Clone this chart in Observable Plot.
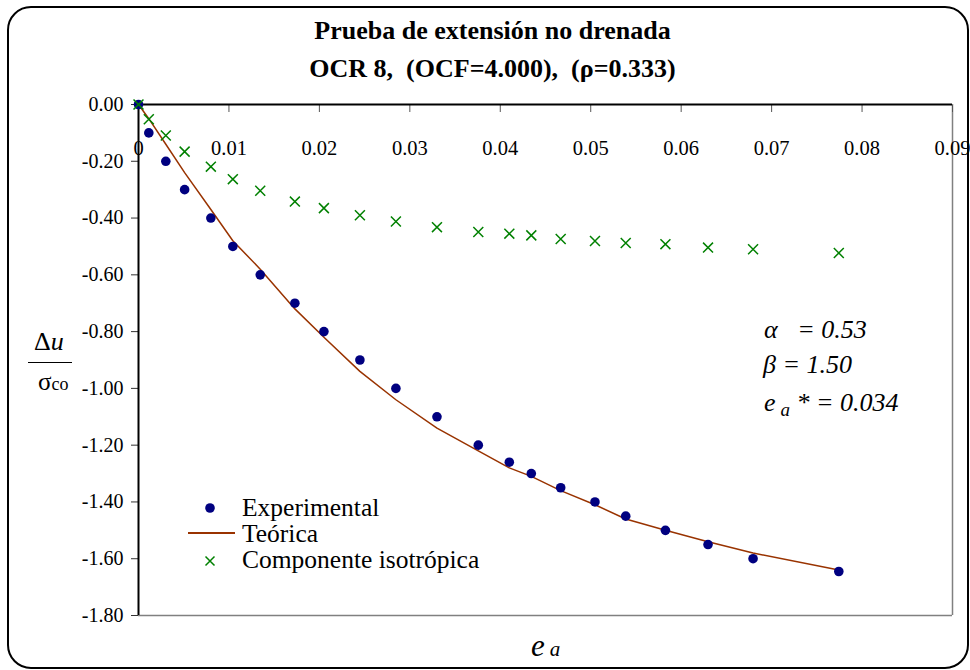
<!DOCTYPE html>
<html>
<head>
<meta charset="utf-8">
<script src="https://cdn.jsdelivr.net/npm/d3@7"></script>
<script src="https://cdn.jsdelivr.net/npm/@observablehq/plot@0.6"></script>
<style>
  html, body { margin: 0; padding: 0; background: #fff; }
  #wrap { position: relative; width: 970px; height: 670px; font-family: "Liberation Serif", "Times New Roman", serif; color: #000; overflow: hidden; }
  #wrap svg { position: absolute; left: 0; top: 0; }
  .border { position: absolute; left: 7px; top: 6px; width: 962px; height: 663px; box-sizing: border-box; border: 2px solid #000; border-radius: 24px; }
  .abs { position: absolute; white-space: pre; line-height: 1; }
  .title { left: 0; width: 985px; text-align: center; font-weight: bold; font-size: 26px; }
  .it { font-style: italic; }
  .leg { font-size: 25.5px; line-height: 24px; height: 24px; }
</style>
</head>
<body>
<div id="wrap">
  <div class="border"></div>
</div>
<script>
// Axial strain e_a and normalised pore pressure Δu/σco
const strain = [0, 0.00114, 0.00302, 0.0051, 0.0080, 0.01043, 0.01346, 0.01729, 0.0205, 0.02448, 0.02846,
  0.0330, 0.03757, 0.0410, 0.04343, 0.04668, 0.05047, 0.05387, 0.05826, 0.06297, 0.06795, 0.07743];
const experimental = [0, -0.10, -0.20, -0.30, -0.40, -0.50, -0.60, -0.70, -0.80, -0.90, -1.00,
  -1.10, -1.20, -1.26, -1.30, -1.35, -1.40, -1.45, -1.50, -1.55, -1.60, -1.645];
const theoretical = [0, -0.05, -0.14, -0.24, -0.37, -0.48, -0.58, -0.72, -0.82, -0.94, -1.04,
  -1.14, -1.22, -1.28, -1.31, -1.36, -1.41, -1.46, -1.50, -1.54, -1.58, -1.64];
const isotropic = [0, -0.052, -0.109, -0.166, -0.219, -0.263, -0.304, -0.342, -0.365, -0.39, -0.412,
  -0.432, -0.449, -0.455, -0.461, -0.474, -0.481, -0.488, -0.492, -0.504, -0.51, -0.523];

const xTicks = [0, 0.01, 0.02, 0.03, 0.04, 0.05, 0.06, 0.07, 0.08, 0.09];
const xTickLabels = ["0", "0.01", "0.02", "0.03", "0.04", "0.05", "0.06", "0.07", "0.08", "0.09"];
const yTicks = [0, -0.2, -0.4, -0.6, -0.8, -1.0, -1.2, -1.4, -1.6, -1.8];

const titleLines = ["Prueba de extensión no drenada", "OCR 8,  (OCF=4.000),  (ρ=0.333)"];
const legendLabels = ["Experimental", "Teórica", "Componente isotrópica"];
const params = { alpha: "0.53", beta: "1.50", eaStar: "0.034" };

const rows = strain.map((x, i) => ({ x, exp: experimental[i], th: theoretical[i], iso: isotropic[i] }));

const navy = "#000080", brown = "#993300", green = "#008000";

const chart = Plot.plot({
  width: 970,
  height: 670,
  marginLeft: 138,
  marginRight: 18,
  marginTop: 104,
  marginBottom: 55,
  style: { fontFamily: "'Liberation Serif', 'Times New Roman', serif", fontSize: "20px", background: "transparent", color: "#000" },
  x: { domain: [0, 0.09] },
  y: { domain: [-1.8, 0] },
  marks: [
    // plot-area frame: dark left/top axes, grey right/bottom edges
    Plot.ruleX([0.09], { stroke: "#808080", strokeWidth: 1.5 }),
    Plot.ruleY([-1.8], { stroke: "#808080", strokeWidth: 1.5 }),
    Plot.axisY({ ticks: yTicks, tickSize: 7, tickPadding: 8, tickFormat: d => d.toFixed(2), label: null, stroke: "#333", fill: "#000" }),
    // top axis ticks pointing into the plot
    Plot.axisX({ anchor: "top", ticks: xTicks, tickSize: 7, dy: 7, tickFormat: () => "", label: null, stroke: "#555" }),
    Plot.text(xTickLabels, { x: xTicks, text: d => d, frameAnchor: "top", dy: 36, fontSize: 20.5, fill: "#000" }),
    Plot.ruleX([0], { stroke: "#000", strokeWidth: 2 }),
    Plot.ruleY([0], { stroke: "#000", strokeWidth: 2 }),
    // series
    Plot.line(rows, { x: "x", y: "th", stroke: brown, strokeWidth: 1.5 }),
    Plot.dot(rows, { x: "x", y: "exp", r: 4.8, fill: navy, stroke: "none" }),
    Plot.dot(rows, { x: "x", y: "iso", r: 4.6, symbol: "times", stroke: green, strokeWidth: 1.5 })
  ]
});

const wrap = document.getElementById("wrap");
wrap.insertBefore(chart, wrap.firstChild);

function addHTML(html) {
  wrap.insertAdjacentHTML("beforeend", html);
}

// title
addHTML(`<div class="abs title" style="top:18px">${titleLines[0]}</div>`);
addHTML(`<div class="abs title" style="top:56px">${titleLines[1]}</div>`);

// y-axis label: Δu over σco
addHTML(`<div class="abs" style="left:34px; top:329px; font-size:26px">Δ<span class="it">u</span></div>`);
addHTML(`<div class="abs" style="left:28px; top:362px; width:44px; height:0; border-top:1.6px solid #000"></div>`);
addHTML(`<div class="abs" style="left:38px; top:369px; font-size:25px">σ<span style="font-size:18px">co</span></div>`);

// x-axis label: e_a
addHTML(`<div class="abs it" style="left:531px; top:630px; font-size:31px">e<span style="font-size:21px; margin-left:5px">a</span></div>`);

// model parameters
addHTML(`<div class="abs it" style="left:764px; top:317px; font-size:26px">α   = ${params.alpha}</div>`);
addHTML(`<div class="abs it" style="left:763px; top:352px; font-size:26px">β = ${params.beta}</div>`);
addHTML(`<div class="abs it" style="left:764px; top:390px; font-size:26px">e<span style="font-size:19px; margin-left:5px; position:relative; top:5px">a</span> * = ${params.eaStar}</div>`);

// legend
const legendSym = [
  `<svg width="50" height="20" style="position:absolute;left:185px;top:${508-10}px"><circle cx="25" cy="10" r="4.8" fill="${navy}"/></svg>`,
  `<svg width="50" height="20" style="position:absolute;left:185px;top:${533-10}px"><line x1="3" x2="50" y1="10" y2="10" stroke="${brown}" stroke-width="1.8"/></svg>`,
  `<svg width="50" height="20" style="position:absolute;left:185px;top:${561-10}px"><path d="M20.5,5.5L29.5,14.5M20.5,14.5L29.5,5.5" stroke="${green}" stroke-width="1.5"/></svg>`
];
legendSym.forEach(s => addHTML(s));
const legendTops = [496, 522, 548];
legendLabels.forEach((t, i) => addHTML(`<div class="abs leg" style="left:242px; top:${legendTops[i]}px">${t}</div>`));
</script>
</body>
</html>
